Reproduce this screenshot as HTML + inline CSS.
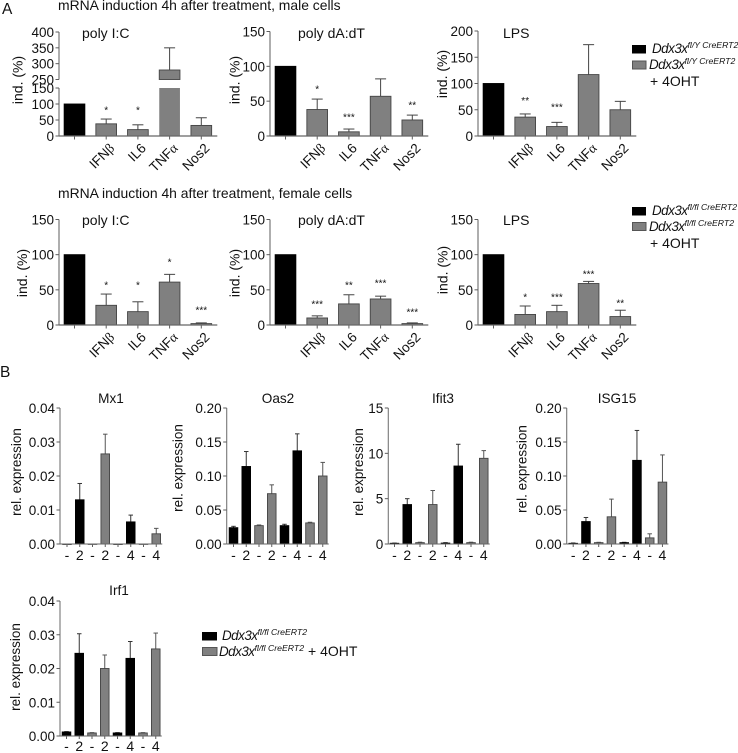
<!DOCTYPE html>
<html lang="en">
<head>
<meta charset="utf-8">
<title>Ddx3x mRNA induction charts</title>
<style>
html,body{margin:0;padding:0;background:#fff;}
body{width:738px;height:753px;overflow:hidden;}
svg{display:block;filter:blur(0.35px);}
text{font-family:"Liberation Sans",Arial,sans-serif;fill:#111;}
.head{font-size:13.9px;}
.letter{font-size:15.5px;}
.leg{font-size:13.4px;font-style:italic;letter-spacing:-0.5px;}
.sup{font-size:8.7px;font-style:italic;letter-spacing:0;}
.plain{font-size:14px;}
</style>
</head>
<body>
<svg id="fig" xmlns="http://www.w3.org/2000/svg" width="738" height="753" viewBox="0 0 738 753">
  <rect width="738" height="753" fill="#fff"/>
  <text class="letter" x="2" y="14">A</text>
  <text class="letter" x="0" y="377">B</text>
  <text class="head" x="58" y="10">mRNA induction 4h after treatment, male cells</text>
  <text class="head" x="58" y="198">mRNA induction 4h after treatment, female cells</text>

  <g>
    <rect x="632" y="45" width="14" height="8.5" fill="#000"/>
    <text class="leg" x="652" y="53">Ddx3x<tspan class="sup" dy="-5">fl/Y CreERT2</tspan></text>
    <rect x="632.5" y="61" width="13.5" height="8" fill="#808080" stroke="#555"/>
    <text class="leg" x="649" y="69">Ddx3x<tspan class="sup" dy="-5">fl/Y CreERT2</tspan></text>
    <text class="plain" x="650" y="86">+ 4OHT</text>
  </g>
  <g>
    <rect x="632" y="207" width="14" height="8.5" fill="#000"/>
    <text class="leg" x="652" y="215">Ddx3x<tspan class="sup" dy="-5">fl/fl CreERT2</tspan></text>
    <rect x="632.5" y="222.5" width="13.5" height="8" fill="#808080" stroke="#555"/>
    <text class="leg" x="649" y="231">Ddx3x<tspan class="sup" dy="-5">fl/fl CreERT2</tspan></text>
    <text class="plain" x="650" y="248">+ 4OHT</text>
  </g>
  <g>
    <rect x="202" y="632" width="15" height="8.5" fill="#000"/>
    <text class="leg" x="222" y="640">Ddx3x<tspan class="sup" dy="-5">fl/fl CreERT2</tspan></text>
    <rect x="202.5" y="647.5" width="14.5" height="8" fill="#808080" stroke="#555"/>
    <text class="leg" x="219" y="656">Ddx3x<tspan class="sup" dy="-5">fl/fl CreERT2</tspan></text>
    <text class="plain" x="308" y="656">+ 4OHT</text>
  </g>
</svg>

<script>
// ---------- shared categories ----------
const cytokines = ['', 'IFNβ', 'IL6', 'TNFα', 'Nos2'];
const timepoints = ['-', '2', '-', '2', '-', '4', '-', '4'];

// ---------- tick labels ----------
const ticks150 = [0, 50, 100, 150];
const ticks200 = [0, 50, 100, 150, 200];
const ticksBrokenLow = [0, 50, 100, 150];
const ticksBrokenHigh = [250, 300, 350, 400];
const ticks004 = ['0.00', '0.01', '0.02', '0.03', '0.04'];
const ticks020 = ['0.00', '0.05', '0.10', '0.15', '0.20'];
const ticks15 = ['0', '5', '10', '15'];

// ---------- panel A, male ----------
const malePolyIC = [100, 38, 20, 280, 33];
const malePolyICErr = [100, 53, 35, 350, 57];
const malePolyICStars = ['', '*', '*', '', ''];
const malePolyICStarLevel = [0, 84, 84, 0, 0];

const malePolyDA = [100, 38, 6, 57, 23];
const malePolyDAErr = [100, 53, 10, 82, 30];
const malePolyDAStars = ['', '*', '***', '', '**'];
const malePolyDAStarLevel = [0, 69, 29, 0, 46];

const maleLPS = [100, 36, 18, 117, 50];
const maleLPSErr = [100, 42, 26, 174, 66];
const maleLPSStars = ['', '**', '***', '', ''];
const maleLPSStarLevel = [0, 70, 57, 0, 0];

// ---------- panel A, female ----------
const femalePolyIC = [100, 28, 19, 61, 2];
const femalePolyICErr = [100, 44, 33, 72, 3];
const femalePolyICStars = ['', '*', '*', '*', '***'];
const femalePolyICStarLevel = [0, 58, 58, 91, 23];

const femalePolyDA = [100, 10, 30, 37, 2];
const femalePolyDAErr = [100, 13, 43, 41, 3];
const femalePolyDAStars = ['', '***', '**', '***', '***'];
const femalePolyDAStarLevel = [0, 31, 58, 61, 20];

const femaleLPS = [100, 15, 19, 59, 12];
const femaleLPSErr = [100, 27, 28, 62, 21];
const femaleLPSStars = ['', '*', '***', '***', '**'];
const femaleLPSStarLevel = [0, 41, 41, 74, 33];

// ---------- panel B ----------
const mx1 = [0, 0.013, 0, 0.0265, 0, 0.0065, 0, 0.003];
const mx1Err = [0, 0.0178, 0, 0.0323, 0, 0.0085, 0, 0.0046];
const oas2 = [0.024, 0.114, 0.027, 0.074, 0.027, 0.137, 0.031, 0.1];
const oas2Err = [0.026, 0.136, 0.028, 0.087, 0.029, 0.162, 0.032, 0.12];
const ifit3 = [0.08, 4.35, 0.15, 4.35, 0.1, 8.6, 0.15, 9.45];
const ifit3Err = [0.1, 5, 0.2, 5.9, 0.15, 11, 0.2, 10.3];
const isg15 = [0.001, 0.033, 0.002, 0.04, 0.002, 0.123, 0.009, 0.091];
const isg15Err = [0.0015, 0.039, 0.0025, 0.066, 0.0025, 0.167, 0.015, 0.131];
const irf1 = [0.0012, 0.0245, 0.0009, 0.02, 0.0009, 0.023, 0.0009, 0.0258];
const irf1Err = [0.0013, 0.0303, 0.001, 0.024, 0.001, 0.028, 0.001, 0.0305];

const NS = 'http://www.w3.org/2000/svg';
const fig = document.getElementById('fig');
const AXIS = '#5e5e5e';

function shape(parent, tag, props, content) {
  const node = document.createElementNS(NS, tag);
  for (const k in props) node.setAttribute(k, props[k]);
  if (content !== undefined) node.textContent = content;
  parent.appendChild(node);
  return node;
}

function segment(parent, x1, y1, x2, y2, color, width) {
  return shape(parent, 'line', { x1, y1, x2, y2, stroke: color, 'stroke-width': width });
}

function slug(s) {
  return String(s).toLowerCase().replace(/[^a-z0-9]+/g, '-').replace(/^-|-$/g, '');
}

// Linear axis function
function linearScale(y0, yTop, vMax) {
  return v => y0 - (v / vMax) * (y0 - yTop);
}

// Two-segment axis function with a gap between lowMax and highMin
function brokenScale(y0, yLowTop, lowMax, yHighBottom, yHighTop, highMin, highMax) {
  return v => v <= lowMax
    ? y0 - (v / lowMax) * (y0 - yLowTop)
    : yHighBottom - ((v - highMin) / (highMax - highMin)) * (yHighBottom - yHighTop);
}

function drawBar(g, cx, w, topY, bottomY, color, stroke, name) {
  const bar = shape(g, 'rect', {
    x: cx - w / 2 + 0.4, y: topY, width: w - 0.8, height: Math.max(bottomY - topY, 0.4),
    fill: color, stroke: stroke, 'stroke-width': 0.9
  });
  
  
  return bar;
}

function drawError(g, cx, fromY, toY, capW, color) {
  const stem = segment(g, cx, fromY, cx, toY, color, 1);
  
  
  const cap = segment(g, cx - capW / 2, toY, cx + capW / 2, toY, color, 1);
  
  
}

function drawYAxis(g, axisX, y, tickValues, labels, fontSize) {
  tickValues.forEach((v, i) => {
    const py = y(v);
    segment(g, axisX - 3.5, py, axisX, py, AXIS, 1);
    const t = shape(g, 'text', {
      x: axisX - 5, y: py + 5, 'text-anchor': 'end', 'font-size': fontSize
    }, labels[i]);
    
    
  });
}

function yTitle(g, text, x, y, size) {
  const t = shape(g, 'text', {
    x: 0, y: 0, 'text-anchor': 'middle', 'font-size': size,
    transform: `translate(${x},${y}) rotate(-90)`
  }, text);
  
  
}

// Rotated category label; a trailing Greek letter uses the serif face
function categoryLabel(g, label, cx, y0) {
  const lab = shape(g, 'text', {
    x: 0, y: 0, 'text-anchor': 'end', 'font-size': 13.6,
    transform: `translate(${cx + 9},${y0 + 13}) rotate(-45)`
  });
  
  
  const last = label.slice(-1);
  if (/[α-ω]/.test(last)) {
    lab.textContent = label.slice(0, -1);
    const greek = shape(lab, 'tspan', { style: 'font-family:"Liberation Serif",serif' }, last);
    
    
  } else {
    lab.textContent = label;
  }
}

// Panel A chart: five bars, optionally with a broken y axis
function drawInduction(opts, values, errs, stars, starLevels, tickGroups, scale) {
  const g = shape(fig, 'g', {});
  
  

  const t = shape(g, 'text', { x: opts.titleX, y: opts.titleY, 'font-size': 14 }, opts.title);
  
  

  yTitle(g, 'ind. (%)', opts.yTitleX, opts.yTitleY, 14);

  const y0 = scale(0);
  tickGroups.forEach(ticks => {
    const ax = segment(g, opts.x, scale(ticks[0]), opts.x, scale(ticks[ticks.length - 1]), '#777', 1.2);
    
    
    drawYAxis(g, opts.x, scale, ticks, ticks.map(String), 13.5);
  });

  const step = 31.7, w = 21.5, first = opts.x + 15.5;
  values.forEach((v, i) => {
    const cx = first + i * step;
    const color = i === 0 ? '#000' : '#808080';
    const stroke = i === 0 ? '#000' : '#444';
    if (i > 0 && errs[i] > v) {
      drawError(g, cx, scale(v), scale(errs[i]), 11, '#444');
    }
    if (opts.breakAt && v > opts.breakAt[0]) {
      drawBar(g, cx, w, scale(opts.breakAt[0]), y0, color, 'none', 'bar-' + slug(cytokines[i]) + '-lower');
      drawBar(g, cx, w, scale(v), scale(opts.breakAt[1]), color, stroke, 'bar-' + slug(cytokines[i]) + '-upper');
    } else {
      drawBar(g, cx, w, scale(v), y0, color, stroke, 'bar-' + (slug(cytokines[i]) || 'control'));
    }
    segment(g, cx, y0, cx, y0 + 3.5, AXIS, 1);
    if (cytokines[i]) categoryLabel(g, cytokines[i], cx, y0);
    if (stars[i]) {
      const s = shape(g, 'text', {
        x: cx, y: scale(starLevels[i]) + 4.5, 'text-anchor': 'middle', 'font-size': 10
      }, stars[i]);
      
      
    }
  });
  const base = segment(g, opts.x, y0, first + 4 * step + 16, y0, '#666', 1.2);
  
  
}

// Panel B chart: eight bars with alternating pairs of black and grey
function drawExpression(opts, values, errs, tickLabels, scale) {
  const g = shape(fig, 'g', {});
  
  

  const t = shape(g, 'text', { x: opts.titleX, y: opts.titleY, 'text-anchor': 'middle', 'font-size': 13.6 }, opts.title);
  
  

  yTitle(g, 'rel. expression', opts.yTitleX, opts.yTitleY, 13.5);

  const nums = tickLabels.map(Number);
  const y0 = scale(0);
  const ax = segment(g, opts.x, y0, opts.x, scale(nums[nums.length - 1]), '#777', 1.1);
  
  
  drawYAxis(g, opts.x, scale, nums, tickLabels, 13.5);

  const step = 12.75, w = 9.4;
  values.forEach((v, i) => {
    const cx = opts.first + i * step;
    const black = i < 2 || (i >= 4 && i < 6);
    const color = black ? '#000' : '#808080';
    if (errs[i] > v) drawError(g, cx, scale(v), scale(errs[i]), 4.5, black ? '#333' : '#555');
    drawBar(g, cx, w, scale(v), y0, color, black ? '#000' : '#444', 'bar-' + (i + 1));
    segment(g, cx, y0, cx, y0 + 3, AXIS, 1);
    const lab = shape(g, 'text', {
      x: cx, y: y0 + opts.labelGap, 'text-anchor': 'middle', 'font-size': 14
    }, timepoints[i]);
    
    
  });
  const base = segment(g, opts.x, y0, opts.first + 7 * step + 6, y0, '#666', 1.1);
  
  
}

// Panel A, male row
drawInduction(
  { name: 'male-poly-ic', title: 'poly I:C', x: 59, titleX: 82, titleY: 38, yTitleX: 22.5, yTitleY: 80, breakAt: [150, 250] },
  malePolyIC, malePolyICErr, malePolyICStars, malePolyICStarLevel,
  [ticksBrokenLow, ticksBrokenHigh],
  brokenScale(136, 88, 150, 79.5, 32, 250, 400)
);
drawInduction(
  { name: 'male-poly-da-dt', title: 'poly dA:dT', x: 270, titleX: 298, titleY: 38, yTitleX: 239.5, yTitleY: 80 },
  malePolyDA, malePolyDAErr, malePolyDAStars, malePolyDAStarLevel,
  [ticks150], linearScale(136, 31.5, 150)
);
drawInduction(
  { name: 'male-lps', title: 'LPS', x: 478, titleX: 503, titleY: 38, yTitleX: 447, yTitleY: 74 },
  maleLPS, maleLPSErr, maleLPSStars, maleLPSStarLevel,
  [ticks200], linearScale(136, 31, 200)
);

// Panel A, female row
drawInduction(
  { name: 'female-poly-ic', title: 'poly I:C', x: 59, titleX: 82, titleY: 225, yTitleX: 27, yTitleY: 273 },
  femalePolyIC, femalePolyICErr, femalePolyICStars, femalePolyICStarLevel,
  [ticks150], linearScale(325, 219.5, 150)
);
drawInduction(
  { name: 'female-poly-da-dt', title: 'poly dA:dT', x: 270, titleX: 298, titleY: 225, yTitleX: 239.5, yTitleY: 273 },
  femalePolyDA, femalePolyDAErr, femalePolyDAStars, femalePolyDAStarLevel,
  [ticks150], linearScale(325, 219.5, 150)
);
drawInduction(
  { name: 'female-lps', title: 'LPS', x: 478, titleX: 503, titleY: 225, yTitleX: 447.5, yTitleY: 270 },
  femaleLPS, femaleLPSErr, femaleLPSStars, femaleLPSStarLevel,
  [ticks150], linearScale(325, 219.5, 150)
);

// Panel B
drawExpression(
  { title: 'Mx1', x: 60, first: 67, titleX: 111, titleY: 403, yTitleX: 21, yTitleY: 472, labelGap: 16 },
  mx1, mx1Err, ticks004, linearScale(544, 408, 0.04)
);
drawExpression(
  { title: 'Oas2', x: 226.7, first: 233.5, titleX: 278, titleY: 403, yTitleX: 182.5, yTitleY: 468, labelGap: 16 },
  oas2, oas2Err, ticks020, linearScale(544, 408, 0.2)
);
drawExpression(
  { title: 'Ifit3', x: 388.3, first: 394.5, titleX: 443, titleY: 403, yTitleX: 363, yTitleY: 472, labelGap: 16 },
  ifit3, ifit3Err, ticks15, linearScale(544, 408, 15)
);
drawExpression(
  { title: 'ISG15', x: 566.7, first: 573.2, titleX: 617, titleY: 403, yTitleX: 526.5, yTitleY: 469, labelGap: 16 },
  isg15, isg15Err, ticks020, linearScale(544, 408, 0.2)
);
drawExpression(
  { title: 'Irf1', x: 60, first: 66.5, titleX: 119, titleY: 595, yTitleX: 20, yTitleY: 667, labelGap: 15 },
  irf1, irf1Err, ticks004, linearScale(736, 601, 0.04)
);
</script>
</body>
</html>
